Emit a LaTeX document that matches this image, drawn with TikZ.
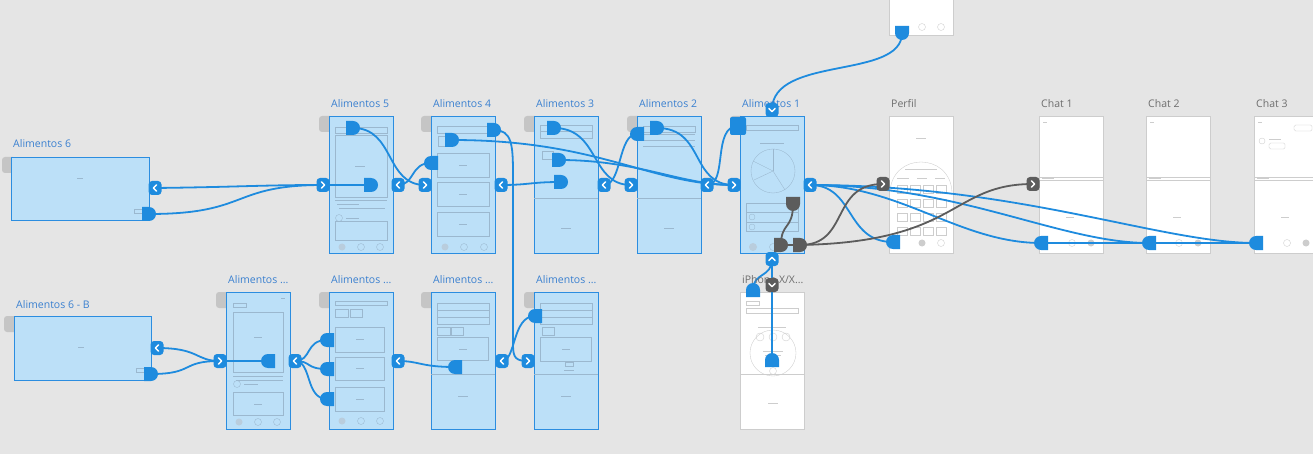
\documentclass[tikz,border=0pt]{standalone}
\usepackage{fontspec}
\setmainfont{Open Sans}
\usetikzlibrary{shapes.misc}
\definecolor{bgc}{HTML}{E5E5E5}
\definecolor{cblue}{HTML}{1E8BDE}
\definecolor{bfill}{HTML}{BCE0F8}
\definecolor{bedge}{HTML}{2B8DE0}
\definecolor{tblue}{HTML}{3A80D0}
\definecolor{tgray}{HTML}{6E6E6E}
\definecolor{cgray}{HTML}{5C5C5C}
\definecolor{tabc}{HTML}{C5C5C5}
\definecolor{uib}{HTML}{9BB8CF}
\definecolor{uiw}{HTML}{CDCDCD}
\pgfdeclarelayer{bg}\pgfdeclarelayer{edges}
\pgfsetlayers{bg,edges,main}
\tikzset{
  phoneb/.style={draw=bedge, line width=1pt, fill=bfill, anchor=north west, inner sep=0, minimum width=64pt, minimum height=137pt},
  phonew/.style={draw=uiw, line width=0.5pt, fill=white, anchor=north west, inner sep=0, minimum width=64pt, minimum height=137pt},
  wideb/.style={draw=bedge, line width=1pt, fill=bfill, anchor=north west, inner sep=0, minimum width=138pt, minimum height=63pt},
  tab/.style={fill=tabc, rounded corners=3pt},
  ttl/.style={anchor=base west, inner sep=0, font=\fontsize{10.5}{12}\selectfont, text=tblue},
  gttl/.style={ttl, text=tgray},
  padR/.style={rounded rectangle, rounded rectangle left arc=none, fill=cblue, minimum height=14pt, minimum width=13pt, inner sep=0, outer sep=0},
  padL/.style={rounded rectangle, rounded rectangle right arc=none, fill=cblue, minimum height=14pt, minimum width=13pt, inner sep=0, outer sep=0},
  padB/.style={padR, rotate=-90},
  padT/.style={padR, rotate=90},
  gpadR/.style={padR, fill=cgray},
  gpadB/.style={padB, fill=cgray},
  padSq/.style={rectangle, rounded corners=2pt, fill=cblue, minimum width=16pt, minimum height=18pt, inner sep=0},
  badge/.style={rectangle, rounded corners=3.5pt, fill=cblue, minimum width=13pt, minimum height=14pt, inner sep=0},
  chv/.style={draw=white, line width=1.4pt, sharp corners, line cap=round, line join=round},
  bL/.style={badge, path picture={\draw[chv] ([shift={(1.6pt,3.2pt)}]path picture bounding box.center) -- ([shift={(-1.6pt,0pt)}]path picture bounding box.center) -- ([shift={(1.6pt,-3.2pt)}]path picture bounding box.center);}},
  bR/.style={badge, path picture={\draw[chv] ([shift={(-1.6pt,3.2pt)}]path picture bounding box.center) -- ([shift={(1.6pt,0pt)}]path picture bounding box.center) -- ([shift={(-1.6pt,-3.2pt)}]path picture bounding box.center);}},
  bD/.style={badge, path picture={\draw[chv] ([shift={(-3.2pt,1.6pt)}]path picture bounding box.center) -- ([shift={(0pt,-1.6pt)}]path picture bounding box.center) -- ([shift={(3.2pt,1.6pt)}]path picture bounding box.center);}},
  bU/.style={badge, path picture={\draw[chv] ([shift={(-3.2pt,-1.6pt)}]path picture bounding box.center) -- ([shift={(0pt,1.6pt)}]path picture bounding box.center) -- ([shift={(3.2pt,-1.6pt)}]path picture bounding box.center);}},
  gbR/.style={bR, fill=cgray},
  gbD/.style={bD, fill=cgray},
  conn/.style={draw=cblue, line width=1.8pt},
  gconn/.style={draw=cgray, line width=1.8pt},
  ui/.style={draw=uib, line width=0.35pt},
  uw/.style={draw=uiw, line width=0.35pt},
}
\begin{document}
\begin{tikzpicture}[x=1pt,y=-1pt]
\useasboundingbox (0,0) rectangle (1313,454);
\begin{pgfonlayer}{bg}
\fill[bgc] (0,0) rectangle (1313,454);
% tabs
\foreach \tx/\ty in {2/157,319/116,421/116,524/116,627/116,730/116,4/316,216/292,319/292,421/292,524/292}
  \fill[tab] (\tx,\ty) rectangle (\tx+14,\ty+16);
% boards
\node[wideb] (A6) at (11,157) {};
\node[phoneb] (A5) at (329,116) {};
\node[phoneb] (A4) at (431,116) {};
\node[phoneb] (A3) at (534,116) {};
\node[phoneb] (A2) at (637,116) {};
\node[phoneb] (A1) at (740,116) {};
\node[phonew] (PF) at (889,116) {};
\node[phonew] (C1) at (1039,116) {};
\node[phonew] (C2) at (1146,116) {};
\node[phonew] (C3) at (1254,116) {};
\node[phonew] (TOP) at (889,-102) {};
\node[wideb, minimum width=137pt, minimum height=64pt] (A6B) at (14,316) {};
\node[phoneb] (B1) at (226,292) {};
\node[phoneb] (B2) at (329,292) {};
\node[phoneb] (B3) at (431,292) {};
\node[phoneb] (B4) at (534,292) {};
\node[phonew] (IP) at (740,292) {};
% details A6
\begin{scope}[shift={(11,157)}]
\draw[ui] (66,21) -- (72,21); \draw[ui] (123,52) rectangle (133,56);
\end{scope}
\begin{scope}[shift={(14,316)}]
\draw[ui] (64,31) -- (70,31); \draw[ui] (122,52) rectangle (132,56);
\end{scope}
% A5
\begin{scope}[shift={(329,116)}]
\draw[ui] (6,11) rectangle (58,17); \draw[ui] (6,19) rectangle (58,81);
\draw[ui] (26,50) -- (36,50); \draw[ui] (6,84) -- (58,84); \draw[ui] (8,88) -- (30,88);
\draw[ui] (10,92) -- (56,92); \draw[ui] (10,102) circle (3.5); \draw[ui] (17,102) -- (30,102);
\draw[ui] (6,105) rectangle (58,124);
\fill[uib!70] (13,131) circle (3.5); \draw[ui] (32,131) circle (3.5); \draw[ui] (51,131) circle (3.5);
\end{scope}
% A4
\begin{scope}[shift={(431,116)}]
\draw[ui] (6,10) rectangle (58,17); \draw[ui] (7,20) rectangle (20,30);
\draw[ui] (6,37) rectangle (58,61); \draw[ui] (6,66) rectangle (58,90); \draw[ui] (6,96) rectangle (58,120);
\draw[ui] (28,49) -- (36,49); \draw[ui] (28,78) -- (36,78); \draw[ui] (28,108) -- (36,108);
\fill[uib!70] (14,131) circle (3.5); \draw[ui] (33,131) circle (3.5); \draw[ui] (53,131) circle (3.5);
\end{scope}
% A3
\begin{scope}[shift={(534,116)}]
\draw[ui] (6,9) rectangle (58,22); \draw[ui] (6,15) -- (58,15); \draw[ui] (8,35) rectangle (19,43);
\draw[ui] (0,82) -- (64,82); \draw[ui] (27,112) -- (37,112);
\end{scope}
% A2
\begin{scope}[shift={(637,116)}]
\draw[ui] (6,10) rectangle (58,16); \draw[ui] (6,18) -- (58,18); \draw[ui] (6,24) -- (58,24); \draw[ui] (6,30) -- (58,30);
\draw[ui] (0,82) -- (64,82); \draw[ui] (27,112) -- (37,112);
\end{scope}
% A1
\begin{scope}[shift={(740,116)}]
\draw[ui] (6,9) rectangle (58,14); \draw[ui] (20,27) -- (44,27);
\draw[ui] (33,55) circle (22); \draw[ui] (33,55) -- (33,33); \draw[ui] (33,55) -- (13,45); \draw[ui] (33,55) -- (14,64); \draw[ui] (33,55) -- (45,74);
\draw[ui] (6,87) rectangle (58,115); \draw[ui] (6,96) -- (58,96); \draw[ui] (6,106) -- (58,106);
\draw[ui] (12,101) circle (3); \draw[ui] (12,111) circle (3);
\fill[uib!70] (13,131) circle (4); \draw[ui] (33,131) circle (3.5);
\end{scope}
% Perfil
\begin{scope}[shift={(889,116)}]
\draw[uw] (27,22) -- (37,22);
\draw[uw] (1,76) .. controls (3,36) and (61,36) .. (63,76);
\draw[uw] (16,53) -- (48,53); \draw[uw] (8,62) -- (20,62); \draw[uw] (28,62) -- (38,62); \draw[uw] (46,62) -- (56,62);
\foreach \gy in {69,83,97,111} \foreach \gx in {8,21,34,47} \draw[uw] (\gx,\gy) rectangle (\gx+10,\gy+8);
\fill[uiw] (33,127) circle (3.5); \draw[uw] (52,127) circle (3.5);
\end{scope}
% Chats
\foreach \cx in {1039,1146,1254}{
\begin{scope}[shift={(\cx,116)}]
\draw[uw] (4,6) -- (8,6); \draw[uw] (0,61) -- (64,61); \draw[uw] (0,64) -- (64,64); \draw[uw] (3,62.5) -- (15,62.5);
\draw[uw] (27,101) -- (35,101);
\draw[uw] (33,127) circle (3.5); \fill[uiw] (52,127) circle (3.5);
\end{scope}}
\begin{scope}[shift={(1254,116)}]
\draw[uw, rounded corners=1.5pt] (40,9) rectangle (58,15); \draw[uw] (8,25) circle (3); \draw[uw, rounded corners=1.5pt] (15,27) rectangle (31,33); \draw[uw] (15,23) -- (27,23);
\end{scope}
% Top board
\begin{scope}[shift={(889,-102)}]
\draw[uw] (33,129) circle (3.5); \draw[uw] (52,129) circle (3.5);
\end{scope}
% iPhone
\begin{scope}[shift={(740,292)}]
\draw[uw] (6,9) rectangle (19,13); \draw[uw] (6,16) rectangle (58,21); \draw[uw] (18,35) -- (46,35);
\draw[uw] (33,61) circle (23); \draw[uw] (20,45) circle (4); \draw[uw] (33,45) circle (4); \draw[uw] (46,45) circle (4);
\draw[uw] (23,59) -- (43,59); \draw[uw] (25,63) -- (41,63); \draw[uw] (33,79) circle (3.5);
\draw[uw] (0,82) -- (64,82); \draw[uw] (28,111) -- (38,111);
\end{scope}
% B1
\begin{scope}[shift={(226,292)}]
\draw[ui] (7,11) rectangle (20,15); \draw[ui] (55,6) -- (59,6); \draw[ui] (7,20) rectangle (57,80);
\draw[ui] (28,45) -- (36,45); \draw[ui] (7,84) -- (57,84); \draw[ui] (10,88) -- (57,88);
\draw[ui] (11,92) circle (3.5); \draw[ui] (18,92) -- (32,92);
\draw[ui] (7,100) rectangle (57,123); \draw[ui] (28,112) -- (36,112);
\fill[uib!70] (13,130) circle (3.5); \draw[ui] (32,130) circle (3.5); \draw[ui] (51,130) circle (3.5);
\end{scope}
% B2
\begin{scope}[shift={(329,292)}]
\draw[ui] (6,9) rectangle (58,13); \draw[ui] (6,17) rectangle (19,25); \draw[ui] (21,17) rectangle (33,25);
\draw[ui] (6,35) rectangle (55,60); \draw[ui] (6,65) rectangle (55,88); \draw[ui] (6,95) rectangle (55,119);
\draw[ui] (27,47) -- (35,47); \draw[ui] (27,76) -- (35,76); \draw[ui] (27,107) -- (35,107);
\fill[uib!70] (13,129) circle (3.5); \draw[ui] (32,129) circle (3.5); \draw[ui] (51,129) circle (3.5);
\end{scope}
% B3
\begin{scope}[shift={(431,292)}]
\draw[ui] (6,11) rectangle (58,32); \draw[ui] (6,18) -- (58,18); \draw[ui] (6,25) -- (58,25);
\draw[ui] (6,35) rectangle (19,43); \draw[ui] (20,35) rectangle (32,43); \draw[ui] (6,45) rectangle (57,68);
\draw[ui] (28,57) -- (36,57); \draw[ui] (0,82) -- (64,82); \draw[ui] (27,104) -- (37,104);
\end{scope}
% B4
\begin{scope}[shift={(534,292)}]
\draw[ui] (6,11) rectangle (58,32); \draw[ui] (6,18) -- (58,18); \draw[ui] (6,25) -- (58,25);
\draw[ui] (8,35) rectangle (20,43); \draw[ui] (6,45) rectangle (57,69); \draw[ui] (28,57) -- (36,57);
\draw[ui] (31,70) rectangle (39,74); \draw[ui] (30,78) -- (40,78);
\draw[ui] (0,82) -- (64,82); \draw[ui] (27,104) -- (37,104);
\end{scope}
\end{pgfonlayer}
% titles
\node[ttl] (tA6) at (13,148) {Alimentos 6};
\node[ttl] (tA5) at (331,108) {Alimentos 5};
\node[ttl] (tA4) at (433,108) {Alimentos 4};
\node[ttl] (tA3) at (536,108) {Alimentos 3};
\node[ttl] (tA2) at (639,108) {Alimentos 2};
\node[ttl] (tA1) at (742,108) {Alimentos 1};
\node[gttl] (tPF) at (891,108) {Perfil};
\node[gttl] (tC1) at (1041,108) {Chat 1};
\node[gttl] (tC2) at (1148,108) {Chat 2};
\node[gttl] (tC3) at (1256,108) {Chat 3};
\node[ttl] (tA6B) at (16,308) {Alimentos 6 - B};
\node[ttl] (tB1) at (228,283) {Alimentos ...};
\node[ttl] (tB2) at (331,283) {Alimentos ...};
\node[ttl] (tB3) at (433,283) {Alimentos ...};
\node[ttl] (tB4) at (536,283) {Alimentos ...};
\node[gttl] (tIP) at (742,283) {iPhone X/X...};
% pads
\node[padR] (pA6) at (149,214) {};
\node[padR] (pA5a) at (353,128) {};
\node[padR] (pA5b) at (371,185) {};
\node[padR] (pA4a) at (452,140) {};
\node[padR] (pA4b) at (494,130) {};
\node[padL] (pA4c) at (431,163) {};
\node[padR] (pA3a) at (554,128) {};
\node[padR] (pA3b) at (559,160) {};
\node[padR] (pA3c) at (561,182) {};
\node[padL] (pA2a) at (637,134) {};
\node[padR] (pA2b) at (657,128) {};
\node[padSq] (pA1a) at (738,126) {};
\node[gpadB] (gA1c) at (793,204) {};
\node[gpadR] (gA1d) at (781,245) {};
\node[gpadR] (gA1e) at (800,245) {};
\node[padL] (pPf) at (893,242) {};
\node[padL] (pC1) at (1041,243) {};
\node[padL] (pC2) at (1149,243) {};
\node[padL] (pC3) at (1256,243) {};
\node[padB] (pTop) at (902,33) {};
\node[padR] (pA6B) at (151,374) {};
\node[padL] (pB1) at (268,361) {};
\node[padL] (pB2a) at (327,340) {};
\node[padL] (pB2b) at (327,369) {};
\node[padL] (pB2c) at (327,399) {};
\node[padL] (pB3) at (455,367) {};
\node[padL] (pB4) at (535,316) {};
\node[padT] (pI1) at (753,290) {};
\node[padT] (pI2) at (772,360) {};
% badges
\node[bL] (bA6r) at (155,188) {};
\node[bR] (bA5l) at (323,185) {};
\node[bL] (bA5r) at (398,185) {};
\node[bR] (bA4l) at (425,185) {};
\node[bL] (bA4r) at (501,185) {};
\node[bL] (bA3r) at (604,185) {};
\node[bR] (bA2l) at (631,185) {};
\node[bL] (bA2r) at (707,185) {};
\node[bR] (bA1l) at (734,185) {};
\node[bL] (bA1r) at (810,185) {};
\node[bD] (bA1t) at (772,110) {};
\node[bU] (bA1b) at (772,259) {};
\node[gbD] (gbI) at (772,285) {};
\node[gbR] (gbPf) at (883,184) {};
\node[gbR] (gbC1) at (1033,184) {};
\node[bL] (bA6Br) at (157,348) {};
\node[bR] (bB1l) at (220,361) {};
\node[bL] (bB1r) at (295,361) {};
\node[bL] (bB2r) at (398,361) {};
\node[bL] (bB3r) at (502,361) {};
\node[bR] (bB4l) at (528,361) {};
% connectors
\begin{pgfonlayer}{edges}
\draw[conn] (bA6r.center) .. controls (240,187) and (260,185) .. (bA5l.center);
\draw[conn] (pA6.center) .. controls (250,214) and (230,185) .. (bA5l.center);
\draw[conn] (pA5b.center) -- (bA5l.center);
\draw[conn] (pA5a.center) .. controls (395,128) and (385,185) .. (bA4l.center);
\draw[conn] (pA4c.center) .. controls (410,163) and (415,185) .. (bA5r.center);
\draw[conn] (pA4a.center) .. controls (600,140) and (650,185) .. (bA1l.center);
\draw[conn] (pA3b.center) .. controls (640,160) and (680,185) .. (bA1l.center);
\draw[conn] (pA3c.center) .. controls (530,182) and (530,185) .. (bA4r.center);
\draw[conn] (pA3a.center) .. controls (600,128) and (590,185) .. (bA2l.center);
\draw[conn] (pA2a.center) .. controls (618,134) and (622,185) .. (bA3r.center);
\draw[conn] (pA2b.center) .. controls (705,128) and (690,185) .. (bA1l.center);
\draw[conn] (pA1a.center) .. controls (712,126) and (728,185) .. (bA2r.center);
\draw[conn] (pTop.center) .. controls (902,80) and (772,55) .. (bA1t.center);
\draw[conn] (pPf.center) .. controls (845,242) and (855,185) .. (bA1r.center);
\draw[conn] (pC1.center) .. controls (960,243) and (900,185) .. (bA1r.center);
\draw[conn] (pC2.center) .. controls (1060,243) and (960,185) .. (bA1r.center);
\draw[conn] (pC3.center) .. controls (1160,243) and (1020,185) .. (bA1r.center);
\draw[conn] (pC1.center) -- (pC2.center);
\draw[conn] (pC2.center) -- (pC3.center);
\draw[gconn] (gA1c.center) .. controls (793,230) and (781,222) .. (gA1d.center);
\draw[gconn] (gA1d.center) -- (gA1e.center);
\draw[gconn] (gA1e.center) .. controls (850,245) and (830,184) .. (gbPf.center);
\draw[gconn] (gA1e.center) .. controls (960,242) and (950,184) .. (gbC1.center);
\draw[conn] (bA6Br.center) .. controls (200,348) and (195,361) .. (bB1l.center);
\draw[conn] (pA6B.center) .. controls (195,374) and (180,361) .. (bB1l.center);
\draw[conn] (pB1.center) -- (bB1l.center);
\draw[conn] (bB1r.center) .. controls (312,361) and (305,340) .. (pB2a.center);
\draw[conn] (bB1r.center) .. controls (312,361) and (305,369) .. (pB2b.center);
\draw[conn] (bB1r.center) .. controls (312,361) and (305,399) .. (pB2c.center);
\draw[conn] (pB3.center) .. controls (420,367) and (420,361) .. (bB2r.center);
\draw[conn] (pA4b.center) .. controls (512,130) and (513,145) .. (513,175) -- (513,345) .. controls (513,358) and (516,361) .. (bB4l.center);
\draw[conn] (pB4.center) .. controls (512,316) and (516,361) .. (bB3r.center);
\draw[conn] (bA1b.center) .. controls (772,278) and (753,272) .. (pI1.center);
\draw[conn] (bA1b.center) -- (pI2.center);
\end{pgfonlayer}
\end{tikzpicture}
\end{document}
